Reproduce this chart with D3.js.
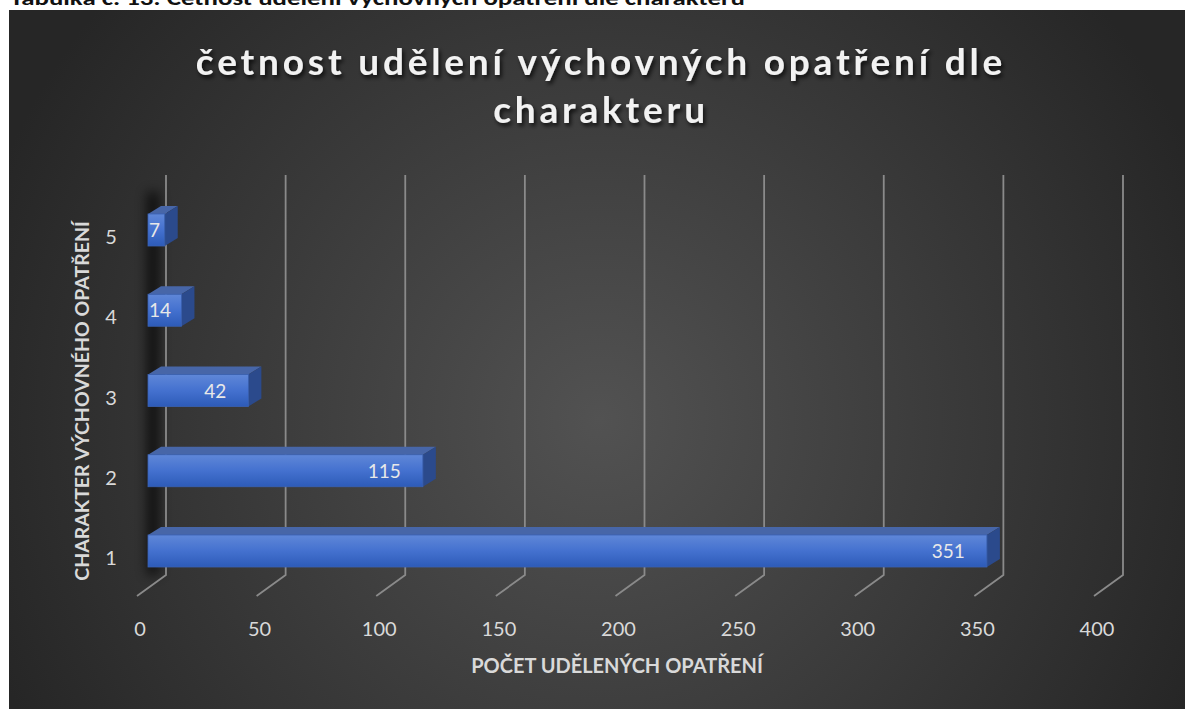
<!DOCTYPE html>
<html>
<head>
<meta charset="utf-8">
<script src="https://cdn.jsdelivr.net/npm/d3@7"></script>
<style>
  html, body { margin: 0; padding: 0; background: #fff; }
  svg { display: block; }
</style>
</head>
<body>
<svg id="chart" width="1185" height="709"></svg>
<script>
  // data
  var categories = ['1', '2', '3', '4', '5'];
  var values = [351, 115, 42, 14, 7];
  var xTicks = [0, 50, 100, 150, 200, 250, 300, 350, 400];

  var heading = 'Tabulka č. 13: Četnost udělení výchovných opatření dle charakteru';
  var titleLines = ['četnost udělení výchovných opatření dle', 'charakteru'];
  var xTitle = 'POČET UDĚLENÝCH OPATŘENÍ';
  var yTitle = 'CHARAKTER VÝCHOVNÉHO OPATŘENÍ';

  var font = 'Lato, "Open Sans", sans-serif';

  var svg = d3.select('#chart');
  var defs = svg.append('defs');

  var bg = defs.append('radialGradient').attr('id', 'bg')
    .attr('gradientUnits', 'userSpaceOnUse')
    .attr('cx', 600).attr('cy', 420).attr('r', 650);
  bg.append('stop').attr('offset', 0).attr('stop-color', '#525252');
  bg.append('stop').attr('offset', 1).attr('stop-color', '#262626');

  var front = defs.append('linearGradient').attr('id', 'barFront')
    .attr('x1', 0).attr('y1', 0).attr('x2', 0).attr('y2', 1);
  front.append('stop').attr('offset', 0).attr('stop-color', '#5f87d8');
  front.append('stop').attr('offset', 0.5).attr('stop-color', '#4471cf');
  front.append('stop').attr('offset', 1).attr('stop-color', '#2d5bb8');

  var blur = defs.append('filter').attr('id', 'wallShadow')
    .attr('x', -3).attr('y', -0.2).attr('width', 7).attr('height', 1.4);
  blur.append('feGaussianBlur').attr('stdDeviation', 6);

  var tshadow = defs.append('filter').attr('id', 'titleShadow')
    .attr('x', -0.1).attr('y', -0.3).attr('width', 1.2).attr('height', 1.6);
  tshadow.append('feDropShadow').attr('dx', 2).attr('dy', 3)
    .attr('stdDeviation', 2).attr('flood-color', '#000').attr('flood-opacity', 0.75);

  // heading above the chart (only its lower part shows)
  svg.append('text')
    .attr('x', 10).attr('y', 5)
    .attr('font-family', 'Carlito, Lato, sans-serif')
    .attr('font-weight', 'bold').attr('font-size', 21)
    .attr('textLength', 735).attr('lengthAdjust', 'spacingAndGlyphs')
    .attr('fill', '#111')
    .text(heading);

  // chart area
  svg.append('rect')
    .attr('x', 9).attr('y', 10).attr('width', 1176).attr('height', 699)
    .attr('fill', 'url(#bg)');

  // title
  svg.append('g').attr('filter', 'url(#titleShadow)')
    .selectAll('text').data(titleLines).join('text')
    .attr('x', 601).attr('y', function (d, i) { return 75 + i * 48; })
    .attr('text-anchor', 'middle')
    .attr('font-family', font).attr('font-weight', 'bold')
    .attr('font-size', 37).attr('letter-spacing', 3.8)
    .attr('fill', '#f2f2f2')
    .text(function (d) { return d; });

  // 3d geometry
  var wallTop = 175, wallBottom = 575;
  var floorDx = -29, floorDy = 21;
  var xBack = d3.scaleLinear().domain([0, 400]).range([166, 1123]);
  var xBar = d3.scaleLinear().domain([0, 400]).range([148, 1104]);
  var y = d3.scalePoint().domain(categories.slice().reverse()).range([230, 551]);
  var barH = 32, depthX = 13, depthY = -8;

  // shadow along the left wall
  svg.append('rect')
    .attr('x', 147).attr('y', 192).attr('width', 12).attr('height', 383)
    .attr('fill', '#000').attr('opacity', 0.7)
    .attr('filter', 'url(#wallShadow)');

  // gridlines: back wall + floor
  var grid = svg.append('g')
    .attr('fill', 'none').attr('stroke', '#8a8a8a').attr('stroke-width', 1.8);
  grid.selectAll('path').data(xTicks).join('path')
    .attr('d', function (d) {
      var x = xBack(d);
      return 'M' + x + ',' + wallTop + 'V' + wallBottom +
        'L' + (x + floorDx) + ',' + (wallBottom + floorDy);
    });

  // x tick labels
  svg.append('g').selectAll('text').data(xTicks).join('text')
    .attr('x', function (d) { return xBack(d) + floorDx + 3; })
    .attr('y', 636)
    .attr('text-anchor', 'middle')
    .attr('font-family', font).attr('font-size', 20)
    .attr('fill', '#d9d9d9')
    .text(function (d) { return d; });

  // category labels
  svg.append('g').selectAll('text').data(categories).join('text')
    .attr('x', 111).attr('y', function (d) { return y(d) + 14; })
    .attr('text-anchor', 'middle')
    .attr('font-family', font).attr('font-size', 20)
    .attr('fill', '#d9d9d9')
    .text(function (d) { return d; });

  // bars
  var data = categories.map(function (c, i) { return { cat: c, value: values[i] }; });
  var bars = svg.append('g').selectAll('g').data(data).join('g');

  bars.append('path') // top face
    .attr('d', function (d) {
      var x0 = xBar(0), x1 = xBar(d.value), t = y(d.cat) - barH / 2;
      return 'M' + x0 + ',' + t + 'L' + (x0 + depthX) + ',' + (t + depthY) +
        'L' + (x1 + depthX) + ',' + (t + depthY) + 'L' + x1 + ',' + t + 'Z';
    })
    .attr('fill', '#4766a8');

  bars.append('path') // side face
    .attr('d', function (d) {
      var x1 = xBar(d.value), t = y(d.cat) - barH / 2;
      return 'M' + x1 + ',' + t + 'L' + (x1 + depthX) + ',' + (t + depthY) +
        'L' + (x1 + depthX) + ',' + (t + depthY + barH) + 'L' + x1 + ',' + (t + barH) + 'Z';
    })
    .attr('fill', '#2b4a8c');

  bars.append('rect') // front face
    .attr('x', xBar(0))
    .attr('y', function (d) { return y(d.cat) - barH / 2; })
    .attr('width', function (d) { return xBar(d.value) - xBar(0); })
    .attr('height', barH)
    .attr('fill', 'url(#barFront)')
    .attr('stroke', '#3a62b4').attr('stroke-width', 0.8);

  // value labels
  bars.append('text')
    .attr('x', function (d) {
      var w = xBar(d.value) - xBar(0);
      return w > 60 ? xBar(d.value) - 22 : xBar(0) + 1;
    })
    .attr('y', function (d) { return y(d.cat) + 7; })
    .attr('text-anchor', function (d) {
      return xBar(d.value) - xBar(0) > 60 ? 'end' : 'start';
    })
    .attr('font-family', font).attr('font-size', 19)
    .attr('fill', '#e8e8e8')
    .text(function (d) { return d.value; });

  // axis titles
  svg.append('text')
    .attr('x', 617).attr('y', 673)
    .attr('text-anchor', 'middle')
    .attr('font-family', font).attr('font-weight', 'bold').attr('font-size', 20)
    .attr('fill', '#d9d9d9')
    .text(xTitle);

  svg.append('text')
    .attr('transform', 'translate(89,401) rotate(-90)')
    .attr('text-anchor', 'middle')
    .attr('font-family', font).attr('font-weight', 'bold').attr('font-size', 19.5)
    .attr('fill', '#d9d9d9')
    .text(yTitle);
</script>
</body>
</html>
